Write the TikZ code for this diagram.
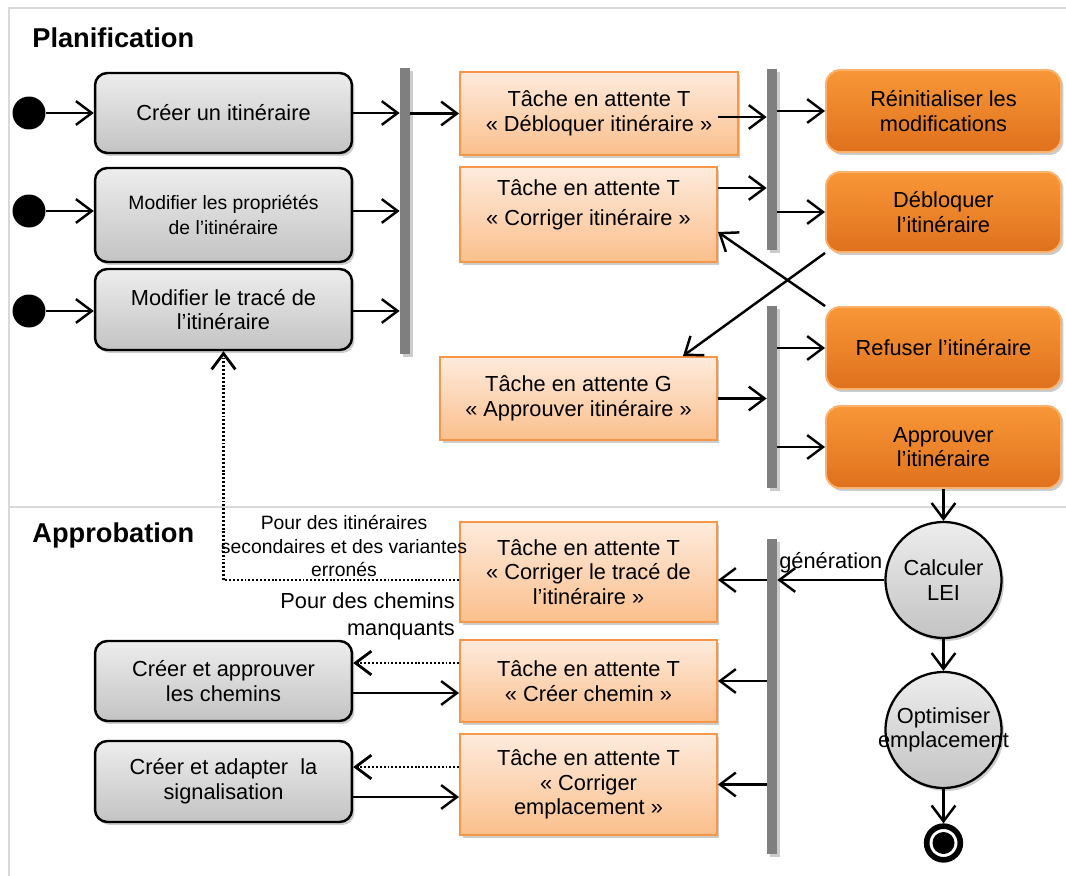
\documentclass[tikz,border=0pt]{standalone}
\usepackage{fontspec}
\setmainfont{Liberation Sans}
\usepackage{tikz}
\usetikzlibrary{arrows.meta, positioning, calc, shadows}
\definecolor{GrisHaut}{HTML}{EDEDED}
\definecolor{GrisBas}{HTML}{C3C3C3}
\definecolor{PecheHaut}{HTML}{FDEBDD}
\definecolor{PecheBas}{HTML}{FBBF8C}
\definecolor{OrangeBord}{HTML}{F79646}
\definecolor{OrangeHaut}{HTML}{F89737}
\definecolor{OrangeBas}{HTML}{DF711D}
\definecolor{OrangeClair}{HTML}{FAB26E}
\definecolor{BarreGris}{HTML}{7F7F7F}
\definecolor{Cadre}{HTML}{D9D9D9}

\begin{document}
\begin{tikzpicture}[x=0.02cm, y=-0.02cm,
  txt/.style={font=\fontsize{12.4}{14}\selectfont, align=center},
  ombre/.style={drop shadow={shadow xshift=0.05cm, shadow yshift=-0.06cm, opacity=0.4}},
  gbox/.style={txt, draw=black, line width=1.4pt, rounded corners=7pt,
    top color=GrisHaut, bottom color=GrisBas, ombre, minimum width=5.14cm, inner sep=2pt},
  tbox/.style={txt, draw=OrangeBord, line width=1.1pt,
    top color=PecheHaut, bottom color=PecheBas, ombre, inner sep=2pt},
  abox/.style={txt, draw=OrangeClair, line width=1.1pt, rounded corners=8pt,
    top color=OrangeHaut, bottom color=OrangeBas, ombre,
    minimum width=4.7cm, minimum height=1.64cm},
  barre/.style={fill=BarreGris, minimum width=0.2cm, inner sep=0pt, ombre},
  ini/.style={circle, fill=black, minimum size=0.66cm, inner sep=0pt},
  etat/.style={txt, circle, draw=black, line width=1.3pt, top color=GrisHaut, bottom color=GrisBas,
    minimum size=2.32cm, inner sep=0pt, ombre},
  arr/.style={-{Straight Barb[length=9pt, width=13.5pt]}, line width=1.4pt},
  dotarr/.style={arr, line width=1.6pt, dash pattern=on 1.1pt off 1.1pt},
  titre/.style={font=\fontsize{15.5}{17}\selectfont\bfseries, anchor=west, inner sep=0pt}
]
\useasboundingbox (0,0) rectangle (1066,876);

% couloirs
\draw[Cadre, line width=1.2pt] (1066,8) -- (9,8) -- (9,876);
\draw[Cadre, line width=1.2pt] (9,507) -- (1066,507);
\node[titre] (plan) at (32,38) {Planification};
\node[titre] (appro) at (32,535) {Approbation};

% planification
\node[ini] (start1) at (29,113) {};
\node[ini] (start2) at (29,211) {};
\node[ini] (start3) at (29,311) {};
\node[gbox, minimum height=1.6cm] (creer) at (223.5,113) {Créer un itinéraire};
\node[gbox, minimum height=1.88cm, font=\fontsize{11}{14}\selectfont] (modprop) at (223.5,215) {Modifier les propriétés\\de l’itinéraire};
\node[gbox, minimum height=1.62cm] (modtrace) at (223.5,309.5) {Modifier le tracé de\\l’itinéraire};

\node[barre, minimum height=5.72cm] (bar1) at (405,211) {};
\node[barre, minimum height=3.62cm] (bar2) at (772,159.5) {};
\node[barre, minimum height=3.64cm] (bar3) at (772,397) {};
\node[barre, minimum height=6.3cm] (bar4) at (772,696.5) {};

\node[tbox, minimum width=5.56cm, minimum height=1.66cm] (tdeb) at (599,113.5) {Tâche en attente T\\« Débloquer itinéraire »};
\node[tbox, minimum width=5.14cm, minimum height=1.9cm] (tcorr) at (588.5,214.5) {Tâche en attente T\\[3pt]« Corriger itinéraire »\\};
\node[tbox, minimum width=5.54cm, minimum height=1.66cm] (tappr) at (578.5,398.5) {Tâche en attente G\\« Approuver itinéraire »};

\node[abox] (reinit) at (943.5,111) {Réinitialiser les\\modifications};
\node[abox, minimum height=1.6cm] (debloq) at (943.5,212) {Débloquer\\l’itinéraire};
\node[abox] (refus) at (943.5,348) {Refuser l’itinéraire};
\node[abox] (approuv) at (943.5,447) {Approuver\\l’itinéraire};

% approbation
\node[etat] (calc) at (943.5,580) {Calculer\\LEI};
\node[etat] (optim) at (943.5,730) {};
\node[txt] (optimtxt) at (optim) {Optimiser\\emplacement};
\node[circle, draw=black, line width=3.2pt, fill=white, minimum size=0.674cm, inner sep=0pt] (fin) at (943.5,843) {};
\node[circle, fill=black, minimum size=0.44cm, inner sep=0pt] (finpt) at (fin) {};

\node[tbox, minimum width=5.14cm, minimum height=2cm] (ttrace) at (588.5,572) {Tâche en attente T\\« Corriger le tracé de\\l’itinéraire »};
\node[tbox, minimum width=5.14cm, minimum height=1.64cm] (tchemin) at (588.5,681) {Tâche en attente T\\« Créer chemin »};
\node[tbox, minimum width=5.14cm, minimum height=2.02cm] (templ) at (588.5,784.5) {Tâche en attente T\\« Corriger\\emplacement »};

\node[gbox, minimum height=1.6cm] (chem) at (223.5,681) {Créer et approuver\\les chemins};
\node[gbox, minimum height=1.62cm] (signal) at (223.5,781.5) {Créer et adapter~ la\\signalisation};

\node[font=\fontsize{11}{13.3}\selectfont, align=center] (lbltrace) at (344,546) {Pour des itinéraires\\secondaires et des variantes\\erronés};
\node[txt, align=right, anchor=east, font=\fontsize{12.4}{15.3}\selectfont] (lblchem) at (461,616.5) {Pour des chemins\\manquants};

% connecteurs
\draw[arr] (start1) -- (creer);
\draw[arr] (start2) -- (start2 -| modprop.west);
\draw[arr] (start3) -- (start3 -| modtrace.west);
\draw[arr] (creer) -- (creer -| bar1.west);
\draw[arr] (modprop.east |- start2) -- (start2 -| bar1.west);
\draw[arr] (modtrace.east |- start3) -- (start3 -| bar1.west);
\draw[arr] (bar1.east |- tdeb) -- (tdeb);
\draw[arr] ([shift={(-21,3.5)}]tdeb.east) coordinate (d1) -- (d1 -| bar2.west);
\draw[arr] ([shift={(0,-26.5)}]tcorr.east) coordinate (c1) -- (c1 -| bar2.west);
\draw[arr] (bar2.east |- reinit) -- (reinit);
\draw[arr] (bar2.east |- debloq) -- (debloq);
\draw[arr] (debloq.south west) -- ([xshift=2.09cm]tappr.north);
\draw[arr] (refus.north west) -- ([shift={(0,17.5)}]tcorr.east);
\draw[arr] (tappr) -- (tappr -| bar3.west);
\draw[arr] (bar3.east |- refus) -- (refus);
\draw[arr] (bar3.east |- approuv) -- (approuv);
\draw[arr] (approuv) -- (calc);
\draw[arr] (calc) -- (calc -| bar4.east) node[midway, above, txt] {génération};
\draw[arr] (bar4.west |- calc) -- (calc -| ttrace.east);
\draw[arr] (bar4.west |- tchemin) -- (tchemin);
\draw[arr] (bar4.west |- templ) -- (templ);
\draw[arr] (calc) -- (optim);
\draw[arr] (optim) -- (fin);
\draw[dotarr] (calc -| ttrace.west) -| (modtrace.south);
\draw[dotarr] ([shift={(0,-18)}]tchemin.west) coordinate (p1) -- (p1 -| chem.east);
\draw[arr] ([shift={(0,12)}]chem.east) coordinate (p2) -- (p2 -| tchemin.west);
\draw[dotarr] ([shift={(0,-17.5)}]templ.west) coordinate (p3) -- (p3 -| signal.east);
\draw[arr] ([shift={(0,15.5)}]signal.east) coordinate (p4) -- (p4 -| templ.west);
\end{tikzpicture}
\end{document}
